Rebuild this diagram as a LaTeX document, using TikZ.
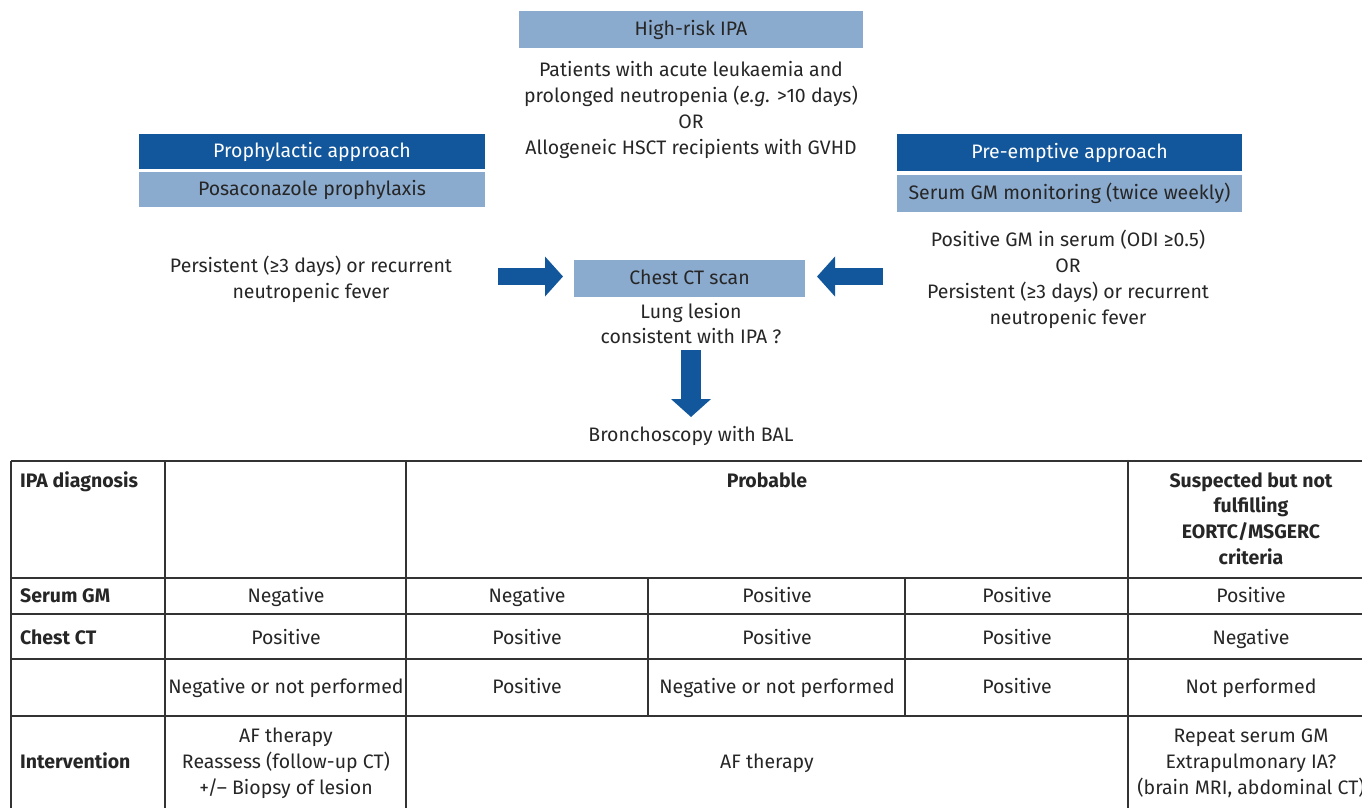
\documentclass[tikz,border=0pt]{standalone}
\usepackage{fontspec}
\setmainfont{Fira Sans}
\usetikzlibrary{arrows.meta}
\definecolor{dblue}{HTML}{12569B}
\definecolor{lblue}{HTML}{8AAACE}
\definecolor{txt}{HTML}{262626}
\definecolor{grid}{HTML}{333333}
\newcommand{\fsz}{\fontsize{19.5}{25.8}\selectfont}
\begin{document}
\begin{tikzpicture}[x=1pt,y=-1pt,
  every node/.style={font=\fsz, text=txt, inner sep=0pt},
  darkbox/.style={fill=dblue, text=white, minimum width=346pt, minimum height=36pt, text height=1.32em, text depth=0.22em},
  lightbox/.style={fill=lblue, minimum width=346pt, minimum height=36pt, text height=1.32em, text depth=0.22em},
  plain/.style={align=center},
  bigarrow/.style={dblue, line width=17pt, -{Triangle[length=18pt,width=39pt]}},
  tl/.style={grid, line width=1.2pt},
  one/.style={text height=0.72em, text depth=0.22em, yshift=-4.5pt},
  hd/.style={font=\fsz\bfseries, anchor=west, one},
  cell/.style={align=center}]
\useasboundingbox (0,0) rectangle (1362,807);
\clip (0,0) rectangle (1362,807);

% top flow
\node[lightbox, minimum width=344pt, minimum height=37pt] (hr) at (691,29.5) {High-risk IPA};
\node[plain] (hrt) at (691,110) {Patients with acute leukaemia and\\prolonged neutropenia (\textit{e.g.} >10 days)\\OR\\Allogeneic HSCT recipients with GVHD};

\node[darkbox, minimum height=35pt] (pa) at (312,151.5) {Prophylactic approach};
\node[lightbox, minimum height=35pt] (pp) at (312,189.5) {Posaconazole prophylaxis};

\node[darkbox, minimum width=345pt, minimum height=37pt] (pe) at (1069.5,152.5) {Pre-emptive approach};
\node[lightbox, minimum width=345pt, minimum height=37pt] (sg) at (1069.5,193.5) {Serum GM monitoring (twice weekly)};

\node[plain] (lt) at (311,279.5) {Persistent (≥3 days) or recurrent\\neutropenic fever};
\node[plain] (rt) at (1068,279.5) {Positive GM in serum (ODI ≥0.5)\\OR\\Persistent (≥3 days) or recurrent\\neutropenic fever};

\node[lightbox, minimum width=231pt, minimum height=37pt] (ct) at (689.5,278.5) {Chest CT scan};
\node[plain] (ll) at (691,323.5) {Lung lesion\\consistent with IPA ?};
\node[plain, one] (bal) at (691,434) {Bronchoscopy with BAL};

\coordinate (a1s) at (498,276.5);
\coordinate (a1e) at (563,276.5);
\coordinate (a2s) at (883,276.5);
\coordinate (a2e) at (817,276.5);
\coordinate (a3s) at (691,350);
\coordinate (a3e) at (691,417);
\draw[bigarrow] (a1s) -- (a1e);
\draw[bigarrow] (a2s) -- (a2e);
\draw[bigarrow, line width=20pt] (a3s) -- (a3e);

% table grid
\foreach \y in {461,578,614,659,716} \draw[tl] (11,\y) -- (1380,\y);
\draw[tl] (11,812) -- (1380,812);
\foreach \x in {11,165,406,1128} \draw[tl] (\x,461) -- (\x,812);
\foreach \x in {648,905} \draw[tl] (\x,578) -- (\x,716);

% header row
\node[hd] (h0) at (20,480) {IPA diagnosis};
\node[font=\fsz\bfseries, one] (h1) at (767,480) {Probable};
\node[font=\fsz\bfseries, align=center] (h2) at (1251,518.5) {Suspected but not\\fulfilling\\EORTC/MSGERC\\criteria};

% serum GM row
\node[hd] (r1) at (20,595) {Serum GM};
\node[one] (r1a) at (286,595) {Negative};
\node[one] (r1b) at (527,595) {Negative};
\node[one] (r1c) at (777,595) {Positive};
\node[one] (r1d) at (1017,595) {Positive};
\node[one] (r1e) at (1251,595) {Positive};

% chest CT row
\node[hd] (r2) at (20,637) {Chest CT};
\node[one] (r2a) at (286,637) {Positive};
\node[one] (r2b) at (527,637) {Positive};
\node[one] (r2c) at (777,637) {Positive};
\node[one] (r2d) at (1017,637) {Positive};
\node[one] (r2e) at (1251,637) {Negative};

% BAL row
\node[one] (r3a) at (286,686) {Negative or not performed};
\node[one] (r3b) at (527,686) {Positive};
\node[one] (r3c) at (777,686) {Negative or not performed};
\node[one] (r3d) at (1017,686) {Positive};
\node[one] (r3e) at (1251,686) {Not performed};

% intervention row
\node[hd] (r4) at (20,761) {Intervention};
\node[cell] (r4a) at (286,763) {AF therapy\\Reassess (follow-up CT)\\+/– Biopsy of lesion};
\node[one] (r4b) at (767,761) {AF therapy};
\node[cell] (r4e) at (1251,763) {Repeat serum GM\\Extrapulmonary IA?\\(brain MRI, abdominal CT)};
\end{tikzpicture}
\end{document}
